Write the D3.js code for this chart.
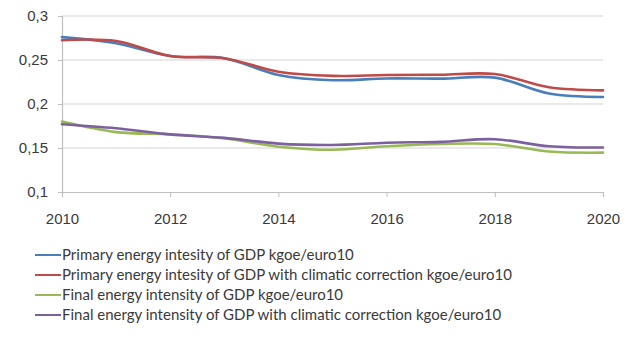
<!DOCTYPE html>
<html>
<head>
<meta charset="utf-8">
<script src="https://cdn.jsdelivr.net/npm/d3@7"></script>
<style>
  html, body { margin: 0; padding: 0; background: #fff; }
  svg { display: block; font-family: Lato, "Open Sans", sans-serif; }
</style>
</head>
<body>
<svg id="chart" width="633" height="349"></svg>
<script>
// Years on the horizontal axis
const years = [2010, 2011, 2012, 2013, 2014, 2015, 2016, 2017, 2018, 2019, 2020];

// Energy intensity series, kgoe/euro10
const primary          = [0.276, 0.269, 0.2545, 0.252, 0.233, 0.227, 0.229, 0.2288, 0.230, 0.212, 0.208];
const primaryClimatic  = [0.2725, 0.2716, 0.2545, 0.252, 0.2367, 0.232, 0.233, 0.2333, 0.234, 0.219, 0.2155];
const finalIntensity   = [0.180, 0.168, 0.1655, 0.161, 0.1515, 0.148, 0.152, 0.1545, 0.1545, 0.146, 0.1447];
const finalClimatic    = [0.177, 0.1724, 0.1655, 0.1615, 0.155, 0.1534, 0.156, 0.157, 0.160, 0.152, 0.1505];

const seriesNames = [
  "Primary energy intesity of GDP kgoe/euro10",
  "Primary energy intesity of GDP with climatic correction kgoe/euro10",
  "Final energy intensity of GDP kgoe/euro10",
  "Final energy intensity of GDP with climatic correction kgoe/euro10"
];
const seriesColors = ["#4A7EBB", "#BE4B48", "#98B954", "#7D60A0"];

const yTicks = [0.1, 0.15, 0.2, 0.25, 0.3];
const xTicks = [2010, 2012, 2014, 2016, 2018, 2020];

const series = [primary, primaryClimatic, finalIntensity, finalClimatic];

const svg = d3.select("#chart");
const plotLeft = 62, plotRight = 603, plotTop = 16, plotBottom = 192;

const x = d3.scaleLinear().domain([2010, 2020]).range([plotLeft, plotRight]);
const y = d3.scaleLinear().domain([0.1, 0.3]).range([plotBottom, plotTop]);

const fmt = v => d3.format(",.2~f")(v).replace(".", ",");
const textColor = "#3a3a3a";

// Horizontal gridlines
svg.append("g")
  .selectAll("line")
  .data(yTicks.slice(1))
  .join("line")
  .attr("x1", plotLeft).attr("x2", plotRight)
  .attr("y1", d => y(d)).attr("y2", d => y(d))
  .attr("stroke", "#d4d4d4").attr("stroke-width", 1.2);

// Y axis
const yAxis = svg.append("g")
  .attr("transform", `translate(${plotLeft},0)`)
  .call(d3.axisLeft(y).tickValues(yTicks).tickFormat(fmt).tickSize(4).tickPadding(10));
yAxis.select(".domain").attr("stroke", "#bfbfbf").attr("stroke-width", 1.2);
yAxis.selectAll(".tick line").attr("stroke", "#bfbfbf");
yAxis.selectAll("text").attr("fill", textColor).attr("font-size", 15);

// X axis
const xAxis = svg.append("g")
  .attr("transform", `translate(0,${plotBottom})`)
  .call(d3.axisBottom(x).tickValues(xTicks).tickFormat(d3.format("d")).tickSize(5).tickPadding(16));
xAxis.select(".domain").attr("stroke", "#bfbfbf").attr("stroke-width", 1.2);
xAxis.selectAll(".tick line").attr("stroke", "#bfbfbf");
xAxis.selectAll("text").attr("fill", textColor).attr("font-size", 15);

// Smoothed series lines
const line = d3.line()
  .x((d, i) => x(years[i]))
  .y(d => y(d))
  .curve(d3.curveCatmullRom.alpha(0.5));

svg.append("g")
  .selectAll("path")
  .data(series)
  .join("path")
  .attr("d", d => line(d))
  .attr("fill", "none")
  .attr("stroke", (d, i) => seriesColors[i])
  .attr("stroke-width", 2.6)
  .attr("stroke-linecap", "round");

// Legend
const legend = svg.append("g");
const rows = legend.selectAll("g")
  .data(seriesNames)
  .join("g")
  .attr("transform", (d, i) => `translate(0,${255 + i * 20})`);
rows.append("line")
  .attr("x1", 35).attr("x2", 61)
  .attr("stroke", (d, i) => seriesColors[i])
  .attr("stroke-width", 2);
rows.append("text")
  .attr("x", 62).attr("dy", "0.35em")
  .attr("fill", textColor)
  .attr("font-size", 15)
  .text(d => d);
</script>
</body>
</html>
